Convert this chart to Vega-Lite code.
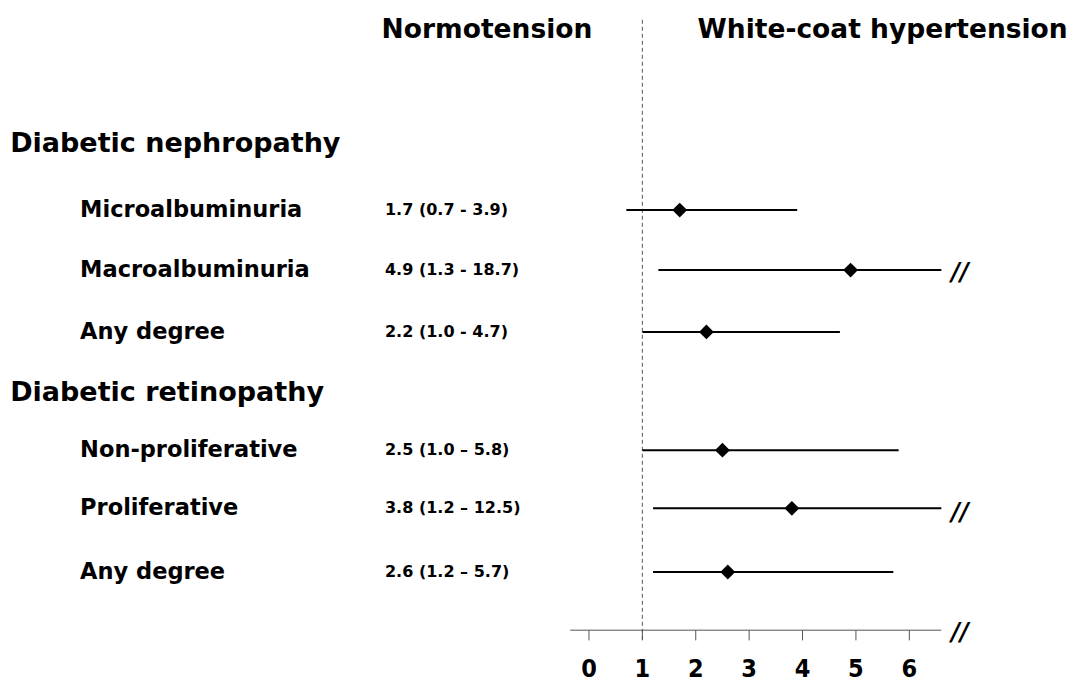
{
  "$schema": "https://vega.github.io/schema/vega-lite/v6.json",
  "width": 1085,
  "height": 689,
  "autosize": {"type": "fit", "contains": "padding"},
  "padding": 0,
  "background": "white",
  "config": {"view": {"stroke": null}, "font": "DejaVu Sans"},
  "datasets": {
    "ors": [
      {"label": "Microalbuminuria", "row": 3, "or": 1.7, "lo": 0.7, "hi": 3.9, "hiDraw": 3.9, "txt": "1.7 (0.7 - 3.9)"},
      {"label": "Macroalbuminuria", "row": 4, "or": 4.9, "lo": 1.3, "hi": 18.7, "hiDraw": 6.6, "txt": "4.9 (1.3 - 18.7)"},
      {"label": "Any degree", "row": 5.03, "or": 2.2, "lo": 1.0, "hi": 4.7, "hiDraw": 4.7, "txt": "2.2 (1.0 - 4.7)"},
      {"label": "Non-proliferative", "row": 7, "or": 2.5, "lo": 1.0, "hi": 5.8, "hiDraw": 5.8, "txt": "2.5 (1.0 – 5.8)"},
      {"label": "Proliferative", "row": 7.97, "or": 3.8, "lo": 1.2, "hi": 12.5, "hiDraw": 6.6, "txt": "3.8 (1.2 – 12.5)"},
      {"label": "Any degree", "row": 9.03, "or": 2.6, "lo": 1.2, "hi": 5.7, "hiDraw": 5.7, "txt": "2.6 (1.2 – 5.7)"}
    ],
    "headers": [
      {"text": "Diabetic nephropathy", "row": 1.9},
      {"text": "Diabetic retinopathy", "row": 6.05}
    ],
    "titles": [
      {"text": "Normotension", "x": -1.91},
      {"text": "White-coat hypertension", "x": 5.5}
    ],
    "ticks": [
      {"v": 0}, {"v": 1}, {"v": 2}, {"v": 3}, {"v": 4}, {"v": 5}, {"v": 6}
    ],
    "breaks": [{"row": 4.05}, {"row": 8.05}, {"row": 10.05}]
  },
  "layer": [
    {
      "data": {"values": [{"a": -0.35, "b": 6.6, "row": 10}]},
      "mark": {"type": "rule", "color": "#555", "strokeWidth": 1},
      "encoding": {
        "x": {"field": "a", "type": "quantitative", "scale": {"domain": [-11.03, 9.29], "nice": false, "zero": false}, "axis": null},
        "x2": {"field": "b"},
        "y": {"field": "row", "type": "quantitative", "scale": {"domain": [10.98, -0.5], "nice": false, "zero": false}, "axis": null}
      }
    },
    {
      "data": {"values": [{"v": 1, "a": -0.17, "b": 10.2}]},
      "mark": {"type": "rule", "color": "#555", "strokeWidth": 1, "strokeDash": [4, 3]},
      "encoding": {
        "x": {"field": "v", "type": "quantitative"},
        "y": {"field": "a", "type": "quantitative"},
        "y2": {"field": "b"}
      }
    },
    {
      "data": {"name": "ticks"},
      "transform": [{"calculate": "10", "as": "a"}, {"calculate": "10.17", "as": "b"}],
      "mark": {"type": "rule", "color": "#555", "strokeWidth": 1},
      "encoding": {
        "x": {"field": "v", "type": "quantitative"},
        "y": {"field": "a", "type": "quantitative"},
        "y2": {"field": "b"}
      }
    },
    {
      "data": {"name": "ticks"},
      "transform": [{"calculate": "10.65", "as": "row"}],
      "mark": {"type": "text", "fontSize": 25, "fontWeight": "bold", "font": "DejaVu Sans Condensed", "baseline": "middle"},
      "encoding": {
        "x": {"field": "v", "type": "quantitative"},
        "y": {"field": "row", "type": "quantitative"},
        "text": {"field": "v"}
      }
    },
    {
      "data": {"name": "ors"},
      "mark": {"type": "rule", "color": "black", "strokeWidth": 2},
      "encoding": {
        "x": {"field": "lo", "type": "quantitative"},
        "x2": {"field": "hiDraw"},
        "y": {"field": "row", "type": "quantitative"}
      }
    },
    {
      "data": {"name": "ors"},
      "mark": {"type": "point", "shape": "diamond", "filled": true, "color": "black", "size": 220, "opacity": 1},
      "encoding": {
        "x": {"field": "or", "type": "quantitative"},
        "y": {"field": "row", "type": "quantitative"}
      }
    },
    {
      "data": {"name": "ors"},
      "mark": {"type": "text", "align": "left", "baseline": "middle", "fontSize": 22.5, "fontWeight": "bold"},
      "encoding": {
        "x": {"datum": -9.53, "type": "quantitative"},
        "y": {"field": "row", "type": "quantitative"},
        "text": {"field": "label"}
      }
    },
    {
      "data": {"name": "ors"},
      "mark": {"type": "text", "align": "left", "baseline": "middle", "fontSize": 16, "fontWeight": "bold"},
      "encoding": {
        "x": {"datum": -3.82, "type": "quantitative"},
        "y": {"field": "row", "type": "quantitative"},
        "text": {"field": "txt"}
      }
    },
    {
      "data": {"name": "headers"},
      "mark": {"type": "text", "align": "left", "baseline": "middle", "fontSize": 27, "fontWeight": "bold"},
      "encoding": {
        "x": {"datum": -10.84, "type": "quantitative"},
        "y": {"field": "row", "type": "quantitative"},
        "text": {"field": "text"}
      }
    },
    {
      "data": {"name": "titles"},
      "mark": {"type": "text", "align": "center", "baseline": "middle", "fontSize": 26.5, "fontWeight": "bold"},
      "encoding": {
        "x": {"field": "x", "type": "quantitative"},
        "y": {"datum": 0, "type": "quantitative"},
        "text": {"field": "text"}
      }
    },
    {
      "data": {"name": "breaks"},
      "mark": {"type": "text", "align": "center", "baseline": "middle", "fontSize": 24, "fontWeight": "bold", "fontStyle": "italic", "text": "//"},
      "encoding": {
        "x": {"datum": 6.95, "type": "quantitative"},
        "y": {"field": "row", "type": "quantitative"}
      }
    }
  ]
}
